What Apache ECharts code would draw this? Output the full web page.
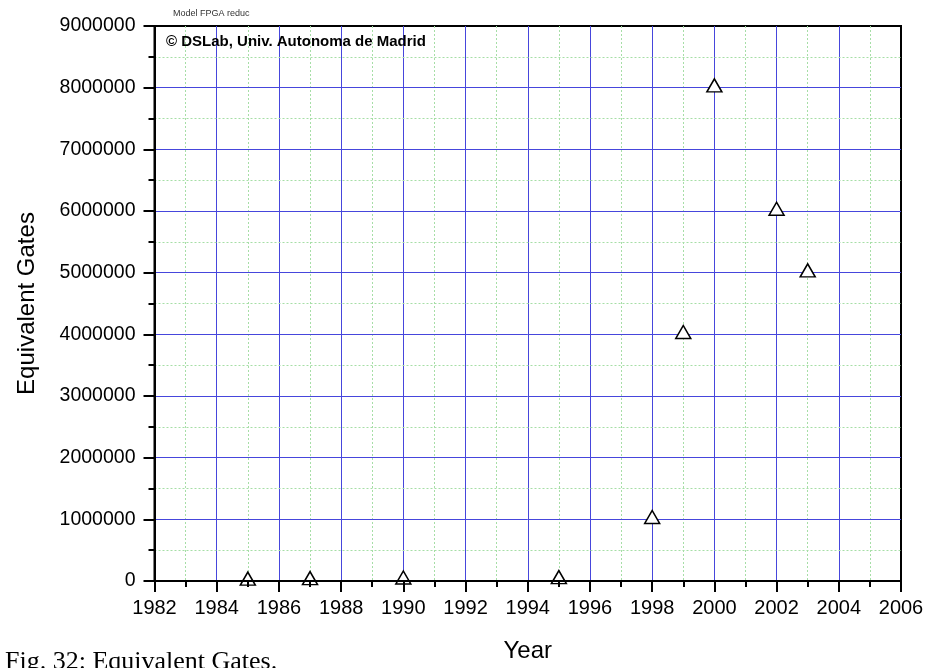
<!DOCTYPE html>
<html>
<head>
<meta charset="utf-8">
<script src="https://cdn.jsdelivr.net/npm/echarts@6/dist/echarts.min.js"></script>
<style>
html,body{margin:0;padding:0;background:#fff;}
#chart{width:930px;height:668px;}
</style>
</head>
<body>
<div id="chart"></div>
<script>
// Data
const years = [1985, 1987, 1990, 1995, 1998, 1999, 2000, 2002, 2003];
const gates = [1500, 9000, 20000, 25000, 1000000, 4000000, 8000000, 6000000, 5000000];
const xTicks = { min: 1982, max: 2006, interval: 2 };
const yTicks = { min: 0, max: 9000000, interval: 1000000 };
const xName = 'Year';
const yName = 'Equivalent Gates';
const noteText = 'Model FPGA reduc';
const copyrightText = '\u00A9 DSLab, Univ. Autonoma de Madrid';
const captionText = 'Fig. 32: Equivalent Gates.';

const FONT = '"Liberation Sans", Arial, sans-serif';
const BLUE = '#4646dc';
const GREEN = '#a6dea6';

const chart = echarts.init(document.getElementById('chart'), null, { renderer: 'canvas' });

const points = years.map((y, i) => [y, gates[i]]);

chart.setOption({
  animation: false,
  backgroundColor: '#fff',
  grid: {
    left: 154.5, right: 29, top: 26, bottom: 86,
    show: true, borderColor: '#000', borderWidth: 2, backgroundColor: 'transparent'
  },
  xAxis: [
    {
      type: 'value', min: xTicks.min, max: xTicks.max, interval: xTicks.interval,
      position: 'bottom', z: 3,
      name: xName, nameLocation: 'middle', nameGap: 58,
      nameTextStyle: { fontFamily: FONT, fontSize: 24, color: '#000' },
      axisLine: { show: true, onZero: false, lineStyle: { color: '#000', width: 2 } },
      axisTick: { show: true, inside: false, length: 11, lineStyle: { color: '#000', width: 2 } },
      minorTick: { show: true, splitNumber: 2, length: 6, lineStyle: { color: '#000', width: 2 } },
      axisLabel: { show: true, margin: 17, fontFamily: FONT, fontSize: 20, color: '#000',
        formatter: v => String(v) },
      splitLine: { show: false }, minorSplitLine: { show: false }
    },
    {
      type: 'value', min: xTicks.min, max: xTicks.max, interval: xTicks.interval,
      position: 'bottom', z: 0,
      axisLine: { show: false }, axisTick: { show: false }, axisLabel: { show: false },
      splitLine: { show: true, showMinLine: false, showMaxLine: false, lineStyle: { color: BLUE, width: 1 } },
      minorTick: { show: false, splitNumber: 2 },
      minorSplitLine: { show: true, lineStyle: { color: GREEN, width: 1, type: [2, 2] } }
    }
  ],
  yAxis: [
    {
      type: 'value', min: yTicks.min, max: yTicks.max, interval: yTicks.interval,
      position: 'left', z: 1,
      name: yName, nameLocation: 'middle', nameGap: 115, nameRotate: 90,
      nameTextStyle: { fontFamily: FONT, fontSize: 24, color: '#000' },
      axisLine: { show: true, onZero: false, lineStyle: { color: '#000', width: 2 } },
      axisTick: { show: true, inside: false, length: 11, lineStyle: { color: '#000', width: 2 } },
      minorTick: { show: true, splitNumber: 2, length: 6, lineStyle: { color: '#000', width: 2 } },
      axisLabel: { show: true, margin: 19, fontFamily: FONT, fontSize: 19.5, color: '#000',
        formatter: v => String(v) },
      splitLine: { show: true, showMinLine: false, showMaxLine: false, lineStyle: { color: BLUE, width: 1 } },
      minorSplitLine: { show: true, lineStyle: { color: GREEN, width: 1, type: [2, 2] } }
    }
  ],
  series: [
    {
      type: 'scatter',
      xAxisIndex: 0, yAxisIndex: 0,
      data: points,
      symbol: 'triangle',
      symbolSize: [15, 13],
      symbolOffset: [0, -2.3],
      z: 2,
      itemStyle: { color: '#fff', borderColor: '#000', borderWidth: 1.5, opacity: 1 },
      emphasis: { disabled: true }
    }
  ],
  graphic: [
    { type: 'text', left: 173, top: 9, z: 10,
      style: { text: noteText, fontFamily: FONT, fontSize: 9, fill: '#333' } },
    { type: 'text', left: 166, top: 34, z: 10,
      style: { text: copyrightText, fontFamily: FONT, fontSize: 15, fontWeight: 'bold', fill: '#000' } },
    { type: 'text', left: 5, top: 649, z: 10,
      style: { text: captionText, fontFamily: '"Liberation Serif", "DejaVu Serif", serif', fontSize: 26, fill: '#000' } }
  ]
});
</script>
</body>
</html>
